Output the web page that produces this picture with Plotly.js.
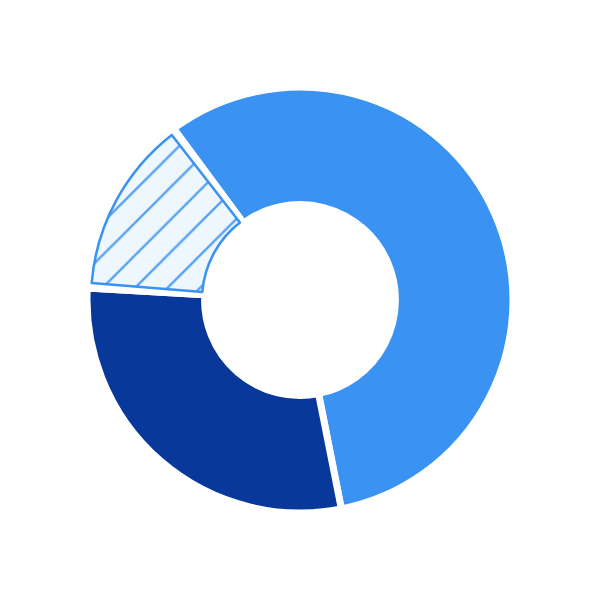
<!DOCTYPE html>
<html>
<head>
<meta charset="utf-8">
<script src="https://cdn.plot.ly/plotly-3.0.1.min.js"></script>
<style>
  html, body { margin: 0; padding: 0; background: #fff; }
  #myDiv { width: 600px; height: 600px; }
</style>
</head>
<body>
<div id="myDiv"></div>
<script>
var labels = ['A', 'B', 'C'];
var values = [57, 29, 14];
var colors = ['#3a92f2', '#09389b', '#ffffff'];

// small empty share used to pull the hatched slice away from its neighbours
var pad = 0.4;

// base ring: solid slices with white gaps, hatched slot left white
var base = {
  type: 'pie',
  labels: labels,
  values: values,
  hole: 0.448,
  sort: false,
  direction: 'clockwise',
  rotation: -36.4,
  textinfo: 'none',
  hoverinfo: 'none',
  marker: {
    colors: colors,
    line: {color: '#ffffff', width: 7}
  }
};

// hatched slice on top, a little narrower, with a thin blue outline
var hatch = {
  type: 'pie',
  labels: ['A2', 'B2', 'C2', 'D2'],
  values: [values[0], values[1] + pad, values[2] - 2 * pad, pad],
  hole: 0.469,
  sort: false,
  direction: 'clockwise',
  rotation: -36.4,
  textinfo: 'none',
  hoverinfo: 'none',
  domain: {x: [0.0094, 0.9906], y: [0.0094, 0.9906]},
  marker: {
    colors: ['rgba(0,0,0,0)', 'rgba(0,0,0,0)', '#eef6fe', 'rgba(0,0,0,0)'],
    pattern: {
      shape: ['', '', '/', ''],
      fgcolor: '#55a2f2',
      bgcolor: '#eef6fe',
      size: 23,
      solidity: 0.1
    },
    line: {
      color: ['rgba(0,0,0,0)', 'rgba(0,0,0,0)', '#3a92f2', 'rgba(0,0,0,0)'],
      width: [0, 0, 2.5, 0]
    }
  }
};

var layout = {
  width: 600,
  height: 600,
  showlegend: false,
  margin: {l: 87, r: 87, t: 87, b: 87},
  paper_bgcolor: '#ffffff',
  plot_bgcolor: '#ffffff'
};

Plotly.newPlot('myDiv', [base, hatch], layout, {displayModeBar: false, staticPlot: true});
</script>
</body>
</html>
